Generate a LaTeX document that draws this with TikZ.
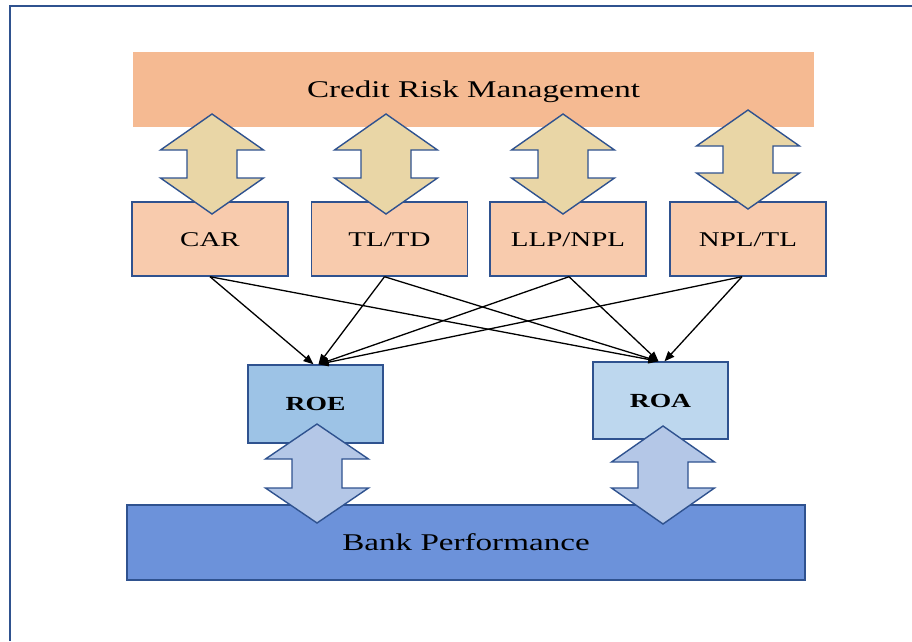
\documentclass[tikz,border=0pt]{standalone}
\usepackage{fontspec}
\setmainfont{Liberation Serif}
\usetikzlibrary{arrows.meta}
\definecolor{barorange}{RGB}{245,186,146}
\definecolor{boxpeach}{RGB}{248,203,173}
\definecolor{tanfill}{RGB}{233,214,166}
\definecolor{roefill}{RGB}{157,195,230}
\definecolor{roafill}{RGB}{189,215,238}
\definecolor{lowarrow}{RGB}{180,199,231}
\definecolor{bankfill}{RGB}{108,146,218}
\definecolor{edgeblue}{RGB}{47,82,143}
\newcommand\wtxt[1]{\scalebox{1.38}[1]{#1}}
\newcommand\dblvarrow[5]{%
  \filldraw[arrowline, fill=#4] (#1,#2) -- (#1+51.5,#2+#5) -- (#1+25,#2+#5) -- (#1+25,#3-#5)
    -- (#1+51.5,#3-#5) -- (#1,#3) -- (#1-51.5,#3-#5) -- (#1-25,#3-#5) -- (#1-25,#2+#5)
    -- (#1-51.5,#2+#5) -- cycle;}
\tikzset{
  txt/.style={text depth=0pt, inner sep=0pt, text=black},
  topbar/.style={txt, text height=16pt, fill=barorange, minimum width=681, minimum height=75, font=\fontsize{24}{28}\selectfont},
  ratio/.style={txt, text height=14pt, fill=boxpeach, draw=edgeblue, line width=1.4pt, minimum width=156, minimum height=74, font=\fontsize{21}{25}\selectfont},
  perf/.style={txt, text height=13.3pt, draw=edgeblue, line width=1.4pt, minimum width=135, minimum height=78, font=\fontsize{20}{24}\selectfont\bfseries},
  bankbar/.style={txt, text height=16pt, fill=bankfill, draw=edgeblue, line width=1.8pt, minimum width=678, minimum height=75, font=\fontsize{24}{28}\selectfont},
  arrowline/.style={draw=edgeblue, line width=1.4pt, line join=miter},
  link/.style={line width=1.3pt, draw=black, -{Triangle[length=10pt,width=8pt]}},
  frame/.style={draw=edgeblue, line width=1.3pt}
}
\begin{document}
\begin{tikzpicture}[x=1pt, y=-1pt]
\useasboundingbox (0,0) rectangle (912,641);
\draw[frame] (10,641) -- (10,6) -- (912,6);
\node[topbar] (crm) at (473.5,89.5) {\wtxt{Credit Risk Management}};
\node[ratio] (car) at (210,239) {\wtxt{CAR}};
\node[ratio] (tltd) at (389.5,239) {\wtxt{TL/TD}};
\node[ratio] (llp) at (568,239) {\wtxt{LLP/NPL}};
\node[ratio] (npl) at (748,239) {\wtxt{NPL/TL}};
\node[perf, fill=roefill] (roe) at (315.5,404) {\wtxt{ROE}};
\node[perf, fill=roafill, minimum height=77] (roa) at (660.5,400.5) {\wtxt{ROA}};
\node[bankbar] (bank) at (466,542.5) {\wtxt{Bank Performance}};
% connectors
\draw[link] (car.south) -- ([xshift=-2pt]roe.north);
\draw[link] (car.south) -- ([xshift=-2pt]roa.north);
\draw[link] ([xshift=-5pt]tltd.south) -- ([xshift=3pt]roe.north);
\draw[link] ([xshift=-5pt]tltd.south) -- ([xshift=-2pt]roa.north);
\draw[link] ([xshift=1pt]llp.south) -- ([xshift=3pt]roe.north);
\draw[link] ([xshift=1pt]llp.south) -- ([xshift=-2pt]roa.north);
\draw[link] ([xshift=-6pt]npl.south) -- ([xshift=3pt]roe.north);
\draw[link] ([xshift=-6pt]npl.south) -- ([xshift=4pt]roa.north);
% double arrows
\dblvarrow{212}{114}{214}{tanfill}{36}
\dblvarrow{386}{114}{214}{tanfill}{36}
\dblvarrow{563}{114}{214}{tanfill}{36}
\dblvarrow{748}{110}{209}{tanfill}{36}
\dblvarrow{317}{424}{523}{lowarrow}{35}
\dblvarrow{663}{426}{524}{lowarrow}{36}
\end{tikzpicture}
\end{document}
